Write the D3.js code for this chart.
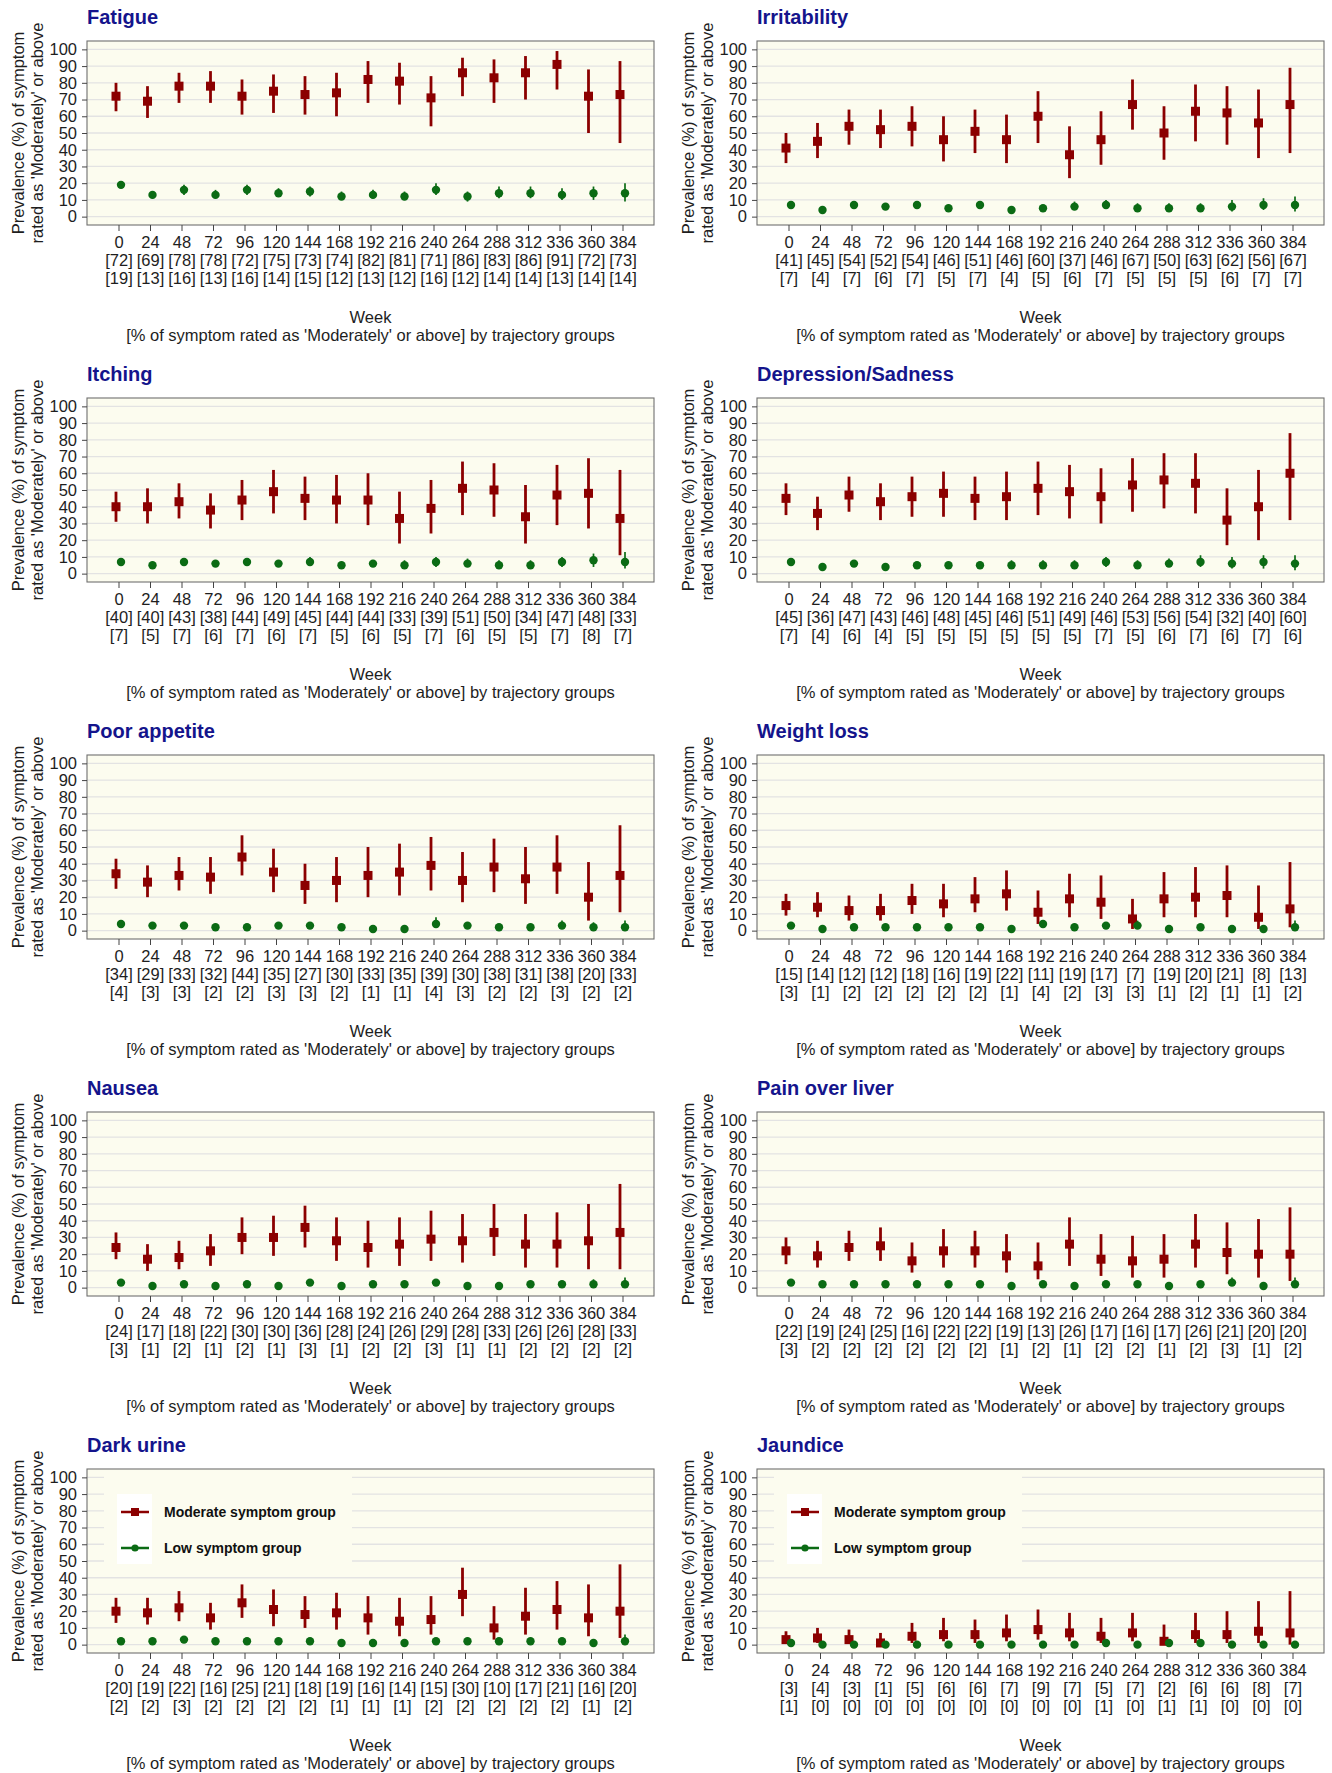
<!DOCTYPE html>
<html>
<head>
<meta charset="utf-8">
<script src="https://cdn.jsdelivr.net/npm/d3@7"></script>
<style>
  html, body { margin: 0; padding: 0; background: #ffffff; }
  svg { display: block; font-family: "Liberation Sans", Arial, sans-serif; }
</style>
</head>
<body>
<svg id="chart" width="1332" height="1773"></svg>
<script>
// Weeks of follow-up and y-axis ticks
const weeks = [0, 24, 48, 72, 96, 120, 144, 168, 192, 216, 240, 264, 288, 312, 336, 360, 384];
const yTicks = [0, 10, 20, 30, 40, 50, 60, 70, 80, 90, 100];
const symptoms = ["Fatigue", "Irritability", "Itching", "Depression/Sadness", "Poor appetite",
                  "Weight loss", "Nausea", "Pain over liver", "Dark urine", "Jaundice"];
const groupNames = ["Moderate symptom group", "Low symptom group"];
const yTitle = ["Prevalence (%) of symptom", "rated as 'Moderately' or above"];
const xTitle = ["Week", "[% of symptom rated as 'Moderately' or above] by trajectory groups"];

// Each entry: [prevalence %, lower 95% CI, upper 95% CI]
const fatigueModerate = [[72,63,80],[69,59,78],[78,68,86],[78,68,87],[72,61,82],[75,62,85],[73,61,84],[74,60,86],[82,68,93],[81,67,92],[71,54,84],[86,72,95],[83,68,94],[86,70,96],[91,76,99],[72,50,88],[73,44,93]];
const fatigueLow = [[19,17,21],[13,11,15],[16,13,19],[13,11,16],[16,13,19],[14,12,17],[15,12,18],[12,10,15],[13,11,16],[12,10,15],[16,13,20],[12,9,15],[14,11,18],[14,11,18],[13,10,17],[14,10,18],[14,9,20]];

const irritabilityModerate = [[41,32,50],[45,35,56],[54,43,64],[52,41,64],[54,42,66],[46,33,60],[51,38,64],[46,32,61],[60,44,75],[37,23,54],[46,31,63],[67,52,82],[50,34,66],[63,45,79],[62,43,78],[56,35,76],[67,38,89]];
const irritabilityLow = [[7,5,9],[4,3,6],[7,5,9],[6,4,8],[7,5,9],[5,4,7],[7,5,9],[4,2,6],[5,3,7],[6,4,9],[7,5,10],[5,3,8],[5,3,8],[5,3,8],[6,3,10],[7,4,11],[7,3,12]];

const itchingModerate = [[40,31,49],[40,30,51],[43,33,54],[38,27,48],[44,32,56],[49,36,62],[45,32,58],[44,30,59],[44,29,60],[33,18,49],[39,24,56],[51,35,67],[50,34,66],[34,18,53],[47,29,65],[48,27,69],[33,11,62]];
const itchingLow = [[7,5,9],[5,4,7],[7,5,9],[6,4,8],[7,5,9],[6,4,8],[7,5,10],[5,3,7],[6,4,8],[5,3,8],[7,4,10],[6,4,9],[5,3,8],[5,3,8],[7,4,10],[8,4,12],[7,3,13]];

const depressionModerate = [[45,35,54],[36,26,46],[47,37,58],[43,32,54],[46,34,58],[48,34,61],[45,32,58],[46,32,61],[51,35,67],[49,33,65],[46,30,63],[53,37,69],[56,39,72],[54,36,72],[32,17,51],[40,20,62],[60,32,84]];
const depressionLow = [[7,5,9],[4,3,6],[6,4,8],[4,3,6],[5,3,7],[5,3,7],[5,3,7],[5,3,8],[5,3,8],[5,3,8],[7,4,10],[5,3,8],[6,4,9],[7,4,11],[6,3,10],[7,3,11],[6,2,11]];

const appetiteModerate = [[34,25,43],[29,20,39],[33,24,44],[32,22,44],[44,33,57],[35,23,49],[27,16,40],[30,17,44],[33,20,50],[35,21,52],[39,24,56],[30,17,47],[38,23,55],[31,16,50],[38,22,57],[20,6,41],[33,11,63]];
const appetiteLow = [[4,3,6],[3,2,5],[3,2,5],[2,1,4],[2,1,4],[3,2,5],[3,2,5],[2,1,4],[1,0,3],[1,0,3],[4,2,8],[3,1,5],[2,1,4],[2,1,4],[3,1,6],[2,0,5],[2,0,6]];

const weightModerate = [[15,9,22],[14,8,23],[12,6,21],[12,6,22],[18,10,28],[16,8,28],[19,11,32],[22,12,36],[11,4,24],[19,8,34],[17,7,33],[7,1,19],[19,8,35],[20,8,38],[21,8,39],[8,1,27],[13,2,41]];
const weightLow = [[3,2,5],[1,0,2],[2,1,3],[2,1,3],[2,1,4],[2,1,4],[2,1,4],[1,0,3],[4,2,6],[2,1,4],[3,1,5],[3,1,6],[1,0,3],[2,0,4],[1,0,3],[1,0,3],[2,0,6]];

const nauseaModerate = [[24,17,33],[17,10,26],[18,11,28],[22,13,32],[30,20,42],[30,19,43],[36,24,49],[28,16,42],[24,12,40],[26,13,42],[29,16,46],[28,15,44],[33,19,50],[26,12,44],[26,12,45],[28,11,50],[33,11,62]];
const nauseaLow = [[3,2,5],[1,0,2],[2,1,3],[1,0,2],[2,1,4],[1,0,3],[3,2,5],[1,0,3],[2,1,4],[2,1,4],[3,1,5],[1,0,3],[1,0,3],[2,0,4],[2,0,4],[2,0,5],[2,0,6]];

const liverModerate = [[22,14,30],[19,12,28],[24,16,34],[25,16,36],[16,9,27],[22,12,35],[22,12,34],[19,9,32],[13,5,27],[26,13,42],[17,7,32],[16,6,31],[17,6,32],[26,12,44],[21,8,39],[20,6,41],[20,4,48]];
const liverLow = [[3,2,5],[2,1,3],[2,1,3],[2,1,3],[2,1,4],[2,1,4],[2,1,4],[1,0,3],[2,1,4],[1,0,3],[2,1,4],[2,1,4],[1,0,3],[2,0,4],[3,1,6],[1,0,3],[2,0,6]];

const urineModerate = [[20,13,28],[19,12,28],[22,14,32],[16,9,25],[25,16,36],[21,11,33],[18,10,29],[19,9,31],[16,6,29],[14,5,28],[15,6,29],[30,17,46],[10,3,23],[17,6,34],[21,9,38],[16,5,36],[20,4,48]];
const urineLow = [[2,1,3],[2,1,3],[3,2,5],[2,1,4],[2,1,4],[2,1,4],[2,1,4],[1,0,3],[1,0,3],[1,0,3],[2,1,4],[2,0,4],[2,0,4],[2,0,4],[2,0,4],[1,0,3],[2,0,6]];

const jaundiceModerate = [[3,1,8],[4,1,10],[3,1,9],[1,0,7],[5,1,13],[6,2,16],[6,1,15],[7,2,18],[9,3,21],[7,2,19],[5,1,16],[7,2,19],[2,0,12],[6,1,19],[6,1,20],[8,1,26],[7,0,32]];
const jaundiceLow = [[1,0,2],[0,0,1],[0,0,1],[0,0,1],[0,0,1],[0,0,1],[0,0,1],[0,0,1],[0,0,1],[0,0,1],[1,0,2],[0,0,1],[1,0,3],[1,0,3],[0,0,1],[0,0,1],[0,0,2]];

const moderateBySymptom = [fatigueModerate, irritabilityModerate, itchingModerate, depressionModerate, appetiteModerate,
                           weightModerate, nauseaModerate, liverModerate, urineModerate, jaundiceModerate];
const lowBySymptom = [fatigueLow, irritabilityLow, itchingLow, depressionLow, appetiteLow,
                      weightLow, nauseaLow, liverLow, urineLow, jaundiceLow];
const legendPanels = ["Dark urine", "Jaundice"];

// ---- layout & style ----
const COLORS = { moderate: "#8b0000", low: "#0b6b14", title: "#14148c", text: "#1e1e1e",
                 plotBg: "#fcfcef", grid: "#e3e3e3", frame: "#6f6f6f", axis: "#444444" };
const FONT = 16.5;
const PLOT_W = 567, PLOT_H = 184;
const COL_X = [87, 757];
const ROW_Y0 = 41, ROW_STEP = 357;
const DODGE = 2.5; // horizontal offset between the two groups, px
const SQ = 9;      // square marker side, px

const svg = d3.select("#chart");

symptoms.forEach((name, i) => {
  const left = COL_X[i % 2];
  const top = ROW_Y0 + ROW_STEP * Math.floor(i / 2);
  const x = d3.scaleLinear().domain([-24, 408]).range([left, left + PLOT_W]);
  const y = d3.scaleLinear().domain([-5, 105]).range([top + PLOT_H, top]);
  const mod = moderateBySymptom[i];
  const low = lowBySymptom[i];
  const g = svg.append("g").attr("class", "panel");

  // title
  g.append("text").attr("x", left).attr("y", top - 17)
    .attr("font-size", 20).attr("font-weight", "bold").attr("fill", COLORS.title)
    .text(name);

  // plot region and grid
  g.append("rect").attr("x", left).attr("y", top).attr("width", PLOT_W).attr("height", PLOT_H)
    .attr("fill", COLORS.plotBg);
  g.append("g").selectAll("line").data(yTicks).join("line")
    .attr("x1", left).attr("x2", left + PLOT_W)
    .attr("y1", d => y(d)).attr("y2", d => y(d))
    .attr("stroke", COLORS.grid).attr("stroke-width", 1.3);

  // legend (covers the grid in its area)
  if (legendPanels.includes(name)) {
    const lg = g.append("g");
    lg.append("rect").attr("x", left + 17).attr("y", top + 3).attr("width", 248).attr("height", 99)
      .attr("fill", COLORS.plotBg);
    lg.append("rect").attr("x", left + 30).attr("y", top + 25).attr("width", 35).attr("height", 70)
      .attr("fill", "#ffffff");
    const rows = [top + 43, top + 79];
    groupNames.forEach((label, k) => {
      const cy = rows[k];
      const col = k === 0 ? COLORS.moderate : COLORS.low;
      lg.append("line").attr("x1", left + 34).attr("x2", left + 62).attr("y1", cy).attr("y2", cy)
        .attr("stroke", col).attr("stroke-width", 2.5);
      if (k === 0) {
        lg.append("rect").attr("x", left + 44).attr("y", cy - 4).attr("width", 8).attr("height", 8).attr("fill", col);
      } else {
        lg.append("circle").attr("cx", left + 48).attr("cy", cy).attr("r", 3.6).attr("fill", col);
      }
      lg.append("text").attr("x", left + 77).attr("y", cy + 5)
        .attr("font-size", 14).attr("font-weight", "bold").attr("fill", "#111")
        .text(label);
    });
  }

  // moderate group: CI bars and squares
  const gm = g.append("g");
  gm.selectAll("line").data(mod).join("line")
    .attr("x1", (d, j) => x(weeks[j]) - DODGE).attr("x2", (d, j) => x(weeks[j]) - DODGE)
    .attr("y1", d => y(d[1])).attr("y2", d => y(d[2]))
    .attr("stroke", COLORS.moderate).attr("stroke-width", 2.8);
  gm.selectAll("rect").data(mod).join("rect")
    .attr("x", (d, j) => x(weeks[j]) - DODGE - SQ / 2).attr("y", d => y(d[0]) - SQ / 2)
    .attr("width", SQ).attr("height", SQ).attr("fill", COLORS.moderate);

  // low group: CI bars and circles
  const gl = g.append("g");
  gl.selectAll("line").data(low).join("line")
    .attr("x1", (d, j) => x(weeks[j]) + DODGE).attr("x2", (d, j) => x(weeks[j]) + DODGE)
    .attr("y1", d => y(d[1])).attr("y2", d => y(d[2]))
    .attr("stroke", COLORS.low).attr("stroke-width", 1.7);
  gl.selectAll("circle").data(low).join("circle")
    .attr("cx", (d, j) => x(weeks[j]) + DODGE).attr("cy", d => y(d[0]))
    .attr("r", 4.2).attr("fill", COLORS.low);

  // frame
  g.append("rect").attr("x", left).attr("y", top).attr("width", PLOT_W).attr("height", PLOT_H)
    .attr("fill", "none").attr("stroke", COLORS.frame).attr("stroke-width", 1.1);

  // y axis
  const ya = g.append("g").attr("transform", `translate(${left},0)`)
    .call(d3.axisLeft(y).tickValues(yTicks).tickSize(5).tickPadding(5));
  ya.select(".domain").remove();
  ya.selectAll("line").attr("stroke", COLORS.axis);
  ya.selectAll("text").attr("font-size", FONT).attr("font-family", "Liberation Sans, Arial, sans-serif")
    .attr("fill", COLORS.text);

  // x axis with bracketed prevalences under each week
  const xa = g.append("g").attr("transform", `translate(0,${top + PLOT_H})`)
    .call(d3.axisBottom(x).tickValues(weeks).tickSize(6).tickPadding(5).tickFormat(d3.format("d")));
  xa.select(".domain").remove();
  xa.selectAll("line").attr("stroke", COLORS.axis);
  xa.selectAll("text").attr("font-size", FONT).attr("font-family", "Liberation Sans, Arial, sans-serif")
    .attr("fill", COLORS.text);
  xa.selectAll(".tick").each(function (w, j) {
    const t = d3.select(this);
    t.append("text").attr("y", 41).attr("fill", COLORS.text).attr("font-size", FONT)
      .attr("text-anchor", "middle").text(`[${mod[j][0]}]`);
    t.append("text").attr("y", 59).attr("fill", COLORS.text).attr("font-size", FONT)
      .attr("text-anchor", "middle").text(`[${low[j][0]}]`);
  });

  // axis titles
  const cx = left + PLOT_W / 2;
  g.append("text").attr("x", cx).attr("y", top + 282).attr("text-anchor", "middle")
    .attr("font-size", FONT).attr("fill", COLORS.text).text(xTitle[0]);
  g.append("text").attr("x", cx).attr("y", top + 300).attr("text-anchor", "middle")
    .attr("font-size", FONT).attr("fill", COLORS.text).text(xTitle[1]);
  yTitle.forEach((line, k) => {
    g.append("text")
      .attr("transform", `translate(${left - 69 + 19 * k},${top + PLOT_H / 2}) rotate(-90)`)
      .attr("text-anchor", "middle").attr("dy", "0.35em")
      .attr("font-size", FONT).attr("fill", COLORS.text).text(line);
  });
});
</script>
</body>
</html>
